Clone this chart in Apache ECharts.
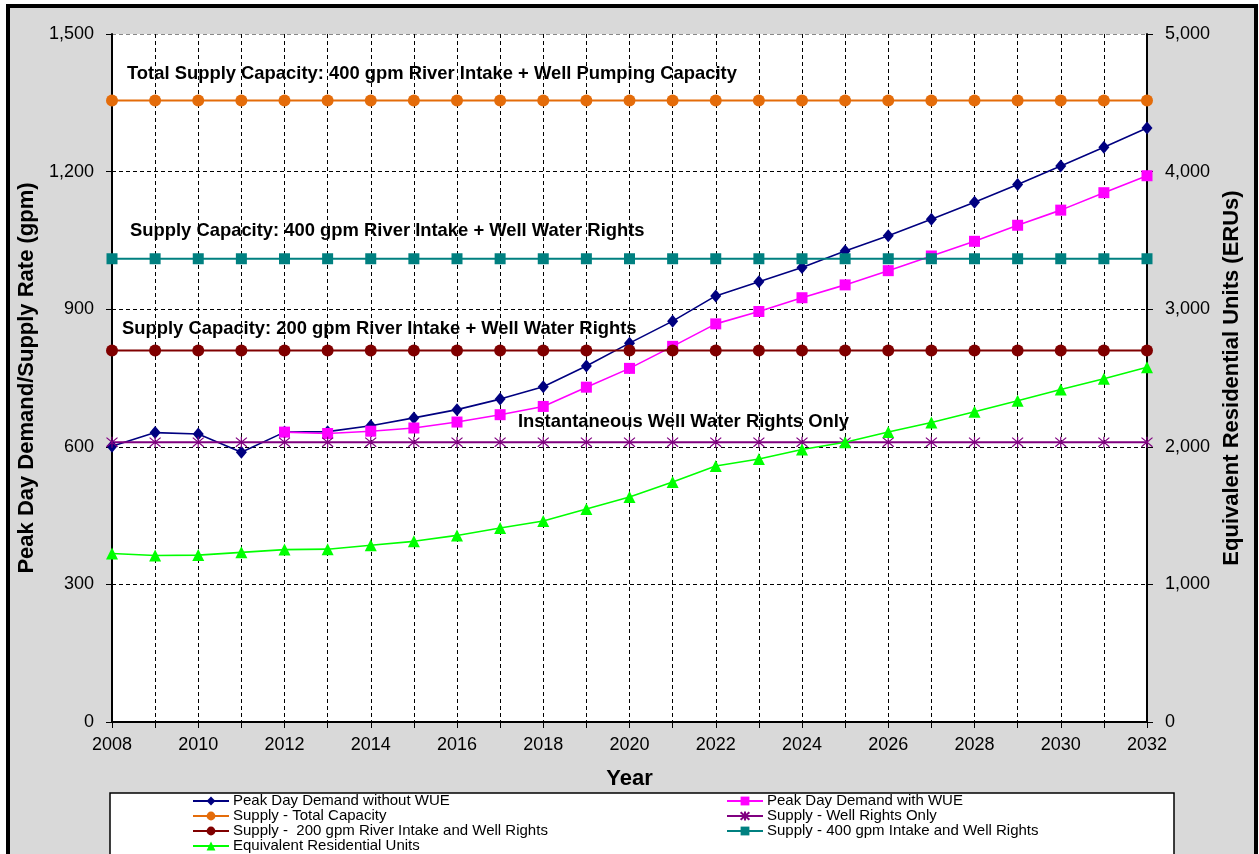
<!DOCTYPE html>
<html>
<head>
<meta charset="utf-8">
<script src="https://cdn.jsdelivr.net/npm/echarts@6/dist/echarts.min.js"></script>
<style>
  html, body { margin: 0; padding: 0; background: #ffffff; }
  #chart { width: 1259px; height: 854px; }
</style>
</head>
<body>
<div id="chart"></div>
<script>
// Planning horizon
const years = [2008, 2009, 2010, 2011, 2012, 2013, 2014, 2015, 2016, 2017, 2018, 2019, 2020,
               2021, 2022, 2023, 2024, 2025, 2026, 2027, 2028, 2029, 2030, 2031, 2032];

// Peak day demand (gpm)
const demandWithoutWUE = [601, 631, 628, 588, 632, 633, 646, 663, 681, 704, 731, 776, 826,
                          874, 929, 960, 991, 1027, 1060, 1096, 1133, 1172, 1212, 1253, 1295];
const demandWithWUE = [null, null, null, null, 632, 629, 634, 641, 654, 670, 688, 730, 771,
                       819, 868, 895, 925, 953, 984, 1016, 1048, 1083, 1116, 1154, 1191];

// Supply levels (gpm)
const supplyTotal = 1355;
const supplyWellRights = 610;
const supply200 = 810;
const supply400 = 1010;

// Equivalent residential units (right axis)
const erus = [1225, 1210, 1213, 1233, 1253, 1256, 1284, 1313, 1356, 1410, 1461, 1548, 1635,
              1744, 1860, 1911, 1980, 2033, 2108, 2177, 2255, 2334, 2416, 2495, 2578];

// Axis ticks
const leftTicks = { min: 0, max: 1500, interval: 300 };
const rightTicks = { min: 0, max: 5000, interval: 1000 };

const seriesNames = [
  'Peak Day Demand without WUE',
  'Peak Day Demand with WUE',
  'Supply - Total Capacity',
  'Supply - Well Rights Only',
  'Supply -  200 gpm River Intake and Well Rights',
  'Supply - 400 gpm Intake and Well Rights',
  'Equivalent Residential Units'
];

// Capacity annotations
const notes = [
  'Total Supply Capacity: 400 gpm River Intake + Well Pumping Capacity',
  'Supply Capacity: 400 gpm River Intake + Well Water Rights',
  'Supply Capacity: 200 gpm River Intake + Well Water Rights',
  'Instantaneous Well Water Rights Only'
];

const pairs = (vals) => years.map((y, i) => [y, vals[i]]);
const flat = (v) => years.map(y => [y, v]);
const fmt = (v) => v.toLocaleString('en-US');

const ASTERISK = 'path://M0,0L10,10M10,0L0,10M5,-1L5,11';
const FONT = 'Arial, "Liberation Sans"';

function lineSeries(name, data, color, symbol, size, extra) {
  return Object.assign({
    name, type: 'line', data,
    color,
    symbol, symbolSize: size,
    showSymbol: true,
    lineStyle: { color, width: 1.6 },
    itemStyle: { color, borderColor: color, borderWidth: 0 },
    emphasis: { disabled: true },
    connectNulls: false,
    z: 3
  }, extra || {});
}

// One legend block per entry, laid out in two columns
const legendSlots = [
  [0, 192, 793], [1, 726, 793],
  [2, 192, 808], [3, 726, 808],
  [4, 192, 823], [5, 726, 823],
  [6, 192, 838]
];
const legends = legendSlots.map(([idx, left, top]) => ({
  left, top, padding: 0, orient: 'horizontal',
  itemWidth: 36, itemHeight: 11, selectedMode: false,
  textStyle: { fontFamily: FONT, fontSize: 15, color: '#000', lineHeight: 15, padding: [1, 0, 0, -1] },
  data: [seriesNames[idx]]
}));

function note(text, left, top) {
  return { type: 'text', z: 100, left, top,
           style: { text, font: 'bold 18.4px ' + FONT, fill: '#000' } };
}

const chart = echarts.init(document.getElementById('chart'), null, { renderer: 'canvas' });

chart.setOption({
  animation: false,
  backgroundColor: '#ffffff',
  textStyle: { fontFamily: FONT },
  graphic: [
    { type: 'rect', z: -100, shape: { x: 8, y: 6, width: 1248, height: 900 },
      style: { fill: '#d9d9d9', stroke: '#000', lineWidth: 4 } },
    { type: 'rect', z: -50, shape: { x: 110, y: 793, width: 1064, height: 80 },
      style: { fill: '#ffffff', stroke: '#000', lineWidth: 1.5 } },
    note(notes[0], 127, 65),
    note(notes[1], 130, 222),
    note(notes[2], 122, 320),
    note(notes[3], 518, 413)
  ],
  legend: legends,
  grid: {
    left: 112, right: 112, top: 34, bottom: 132,
    show: true, backgroundColor: '#ffffff', borderWidth: 0
  },
  xAxis: {
    type: 'value', min: 2008, max: 2032, interval: 1,
    name: 'Year', nameLocation: 'middle', nameGap: 46,
    nameTextStyle: { fontSize: 22, fontWeight: 'bold', color: '#000' },
    axisLine: { lineStyle: { color: '#000', width: 2 } },
    axisTick: { show: true, length: 6, lineStyle: { color: '#000', width: 1 } },
    axisLabel: { fontSize: 18, color: '#000', margin: 14,
                 formatter: (v) => (v % 2 === 0 ? String(v) : ''),
                 showMinLabel: true, showMaxLabel: true, hideOverlap: false },
    splitLine: { show: true, lineStyle: { color: '#000', type: [4, 3], width: 1 } }
  },
  yAxis: [
    {
      type: 'value', ...leftTicks, position: 'left',
      name: 'Peak Day Demand/Supply Rate (gpm)', nameLocation: 'middle', nameGap: 71,
      nameTextStyle: { fontSize: 22, fontWeight: 'bold', color: '#000' },
      axisLine: { show: true, lineStyle: { color: '#000', width: 2 } },
      axisTick: { show: true, length: 6, lineStyle: { color: '#000' } },
      axisLabel: { fontSize: 18, color: '#000', margin: 18, formatter: fmt },
      splitLine: { show: true, lineStyle: { color: ['#000', '#000', '#000', '#000', '#000', '#888'], type: [4, 3], width: 1 } }
    },
    {
      type: 'value', ...rightTicks, position: 'right',
      name: 'Equivalent Residential Units (ERUs)', nameLocation: 'middle', nameGap: 70,
      nameRotate: 90,
      nameTextStyle: { fontSize: 22, fontWeight: 'bold', color: '#000' },
      axisLine: { show: true, lineStyle: { color: '#000', width: 2 } },
      axisTick: { show: true, length: 6, lineStyle: { color: '#000' } },
      axisLabel: { fontSize: 18, color: '#000', margin: 18, formatter: fmt },
      splitLine: { show: false }
    }
  ],
  series: [
    lineSeries(seriesNames[0], pairs(demandWithoutWUE), '#000080', 'diamond', [11, 13]),
    lineSeries(seriesNames[1], pairs(demandWithWUE), '#ff00ff', 'rect', 11),
    lineSeries(seriesNames[2], flat(supplyTotal), '#e46c0a', 'circle', 12, { lineStyle: { color: '#e46c0a', width: 2 } }),
    lineSeries(seriesNames[3], flat(supplyWellRights), '#800080', ASTERISK, 11,
      { itemStyle: { color: '#800080', borderColor: '#800080', borderWidth: 1.2 }, lineStyle: { color: '#800080', width: 2 } }),
    lineSeries(seriesNames[4], flat(supply200), '#800000', 'circle', 12, { lineStyle: { color: '#800000', width: 2 } }),
    lineSeries(seriesNames[5], flat(supply400), '#008080', 'rect', 11, { lineStyle: { color: '#008080', width: 2 } }),
    lineSeries(seriesNames[6], pairs(erus), '#00ff00', 'triangle', 12, { yAxisIndex: 1 })
  ]
});
</script>
</body>
</html>
